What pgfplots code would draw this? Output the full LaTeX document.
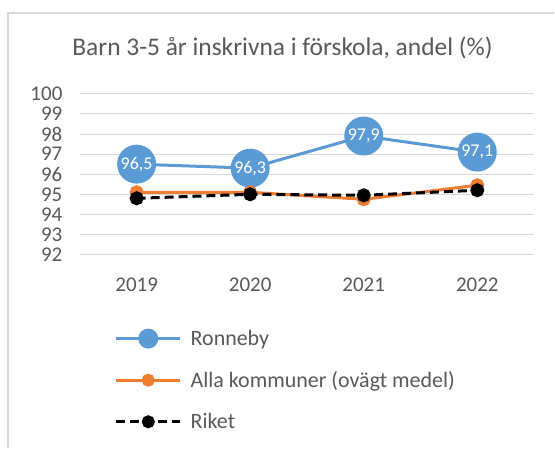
\documentclass[border=0pt]{standalone}
\usepackage{pgfplots}
\pgfplotsset{compat=1.18}
\usepackage{fontspec}
\setmainfont{Carlito}
\definecolor{ron}{HTML}{5B9BD5}
\definecolor{alla}{HTML}{ED7D31}
\definecolor{txt}{HTML}{595959}
\definecolor{gridc}{HTML}{D9D9D9}
\pgfplotsset{
  bigleg/.style={legend image code/.code={\draw[##1, mark size=8.5bp, mark repeat=2, mark phase=2] plot coordinates {(0bp,0bp) (32bp,0bp) (64bp,0bp)};}},
  smallleg/.style={legend image code/.code={\draw[##1, mark size=5bp, mark repeat=2, mark phase=2] plot coordinates {(0bp,0bp) (32bp,0bp) (64bp,0bp)};}},
}
\begin{document}
\begin{tikzpicture}[x=1bp,y=1bp]
\path (0,0) rectangle (555,-449);
\draw[gridc, line width=2bp] (8.5,-449) -- (8.5,-13.5) -- (555,-13.5);
\node[text=txt, font=\fontsize{25.5bp}{30bp}\selectfont] at (283,-48) {Barn 3-5 år inskrivna i förskola, andel (\%)};
\begin{axis}[
  at={(80bp,-255bp)}, anchor=south west,
  scale only axis, width=455bp, height=161bp,
  xmin=-0.5, xmax=3.5, ymin=92, ymax=100,
  xtick={0,1,2,3}, xticklabels={2019,2020,2021,2022},
  ytick={92,93,...,100},
  axis line style={draw=none},
  major tick length=0pt,
  ymajorgrids, grid style={gridc, line width=1bp},
  tick label style={text=txt, font=\fontsize{21bp}{22bp}\selectfont},
  /pgf/number format/assume math mode=true,
  yticklabel style={xshift=-14bp, inner ysep=0pt},
  xticklabel style={yshift=-20bp},
  clip=false,
  legend style={at={(0.07,-0.445)}, anchor=north west, draw=none, fill=none,
    font=\fontsize{22bp}{24bp}\selectfont, text=txt, row sep=20.5bp,
    /tikz/every odd column/.append style={column sep=7bp}},
  legend cell align=left,
]
\addplot[ron, line width=3bp, mark=*, mark size=18bp, mark options={fill=ron, draw=ron},
  nodes near coords={\pgfmathprintnumber[fixed,precision=1,fixed zerofill,use comma]{\pgfplotspointmeta}},
  point meta=y,
  every node near coord/.append style={anchor=center, text=white, font=\fontsize{18bp}{20bp}\selectfont},
  bigleg
] coordinates {(0,96.5) (1,96.3) (2,97.9) (3,97.1)};
\addlegendentry{Ronneby}
\addplot[alla, line width=3bp, mark=*, mark size=5.5bp, mark options={fill=alla, draw=alla}, smallleg
] coordinates {(0,95.1) (1,95.1) (2,94.75) (3,95.45)};
\addlegendentry{Alla kommuner (ovägt medel)}
\addplot[black, line width=3bp, dash pattern=on 9bp off 5bp, mark=*, mark size=5.5bp, mark options={fill=black, draw=black, solid}, smallleg
] coordinates {(0,94.8) (1,95.0) (2,94.95) (3,95.2)};
\addlegendentry{Riket}
\end{axis}
\end{tikzpicture}
\end{document}
